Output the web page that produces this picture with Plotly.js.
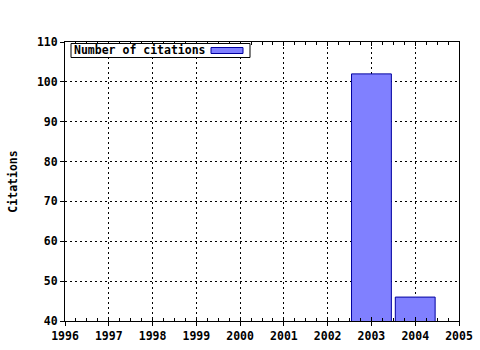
<!DOCTYPE html>
<html>
<head>
<meta charset="utf-8">
<script src="https://cdn.plot.ly/plotly-3.0.1.min.js"></script>
<style>html,body{margin:0;padding:0;background:#fff;}#chart{width:480px;height:350px;}</style>
</head>
<body>
<div id="chart"></div>
<script>
var years = [2003, 2004];
var citations = [102, 46];
var seriesName = 'Number of citations';
var yTitle = 'Citations';

var font = {family: 'DejaVu Sans Mono, monospace', size: 11.5, color: '#000', weight: 'bold'};

var trace = {
  type: 'bar', x: years, y: citations, width: 0.91, name: seriesName,
  marker: {color: '#8080ff', line: {color: '#0000a0', width: 1}},
  showlegend: false, hoverinfo: 'none'
};
var helper = {type: 'scatter', x: [1996], y: [40], xaxis: 'x2', yaxis: 'y', mode: 'none', showlegend: false, hoverinfo: 'none'};

function px(x) { return (x - 65) / 394; }
function py(y) { return (321 - y) / 279; }

var layout = {
  width: 480, height: 350,
  margin: {l: 65, r: 21, t: 42, b: 29},
  paper_bgcolor: '#fff', plot_bgcolor: '#fff',
  font: font,
  showlegend: false,
  xaxis: {
    range: [1996, 2005], dtick: 1, tick0: 1996, tickformat: 'd',
    showline: true, linecolor: '#000', linewidth: 1, mirror: 'allticks',
    ticks: 'inside', ticklen: 4, tickcolor: '#000', ticklabelstandoff: 4,
    showgrid: true, gridcolor: '#000', griddash: '2px,3px', gridwidth: 1,
    minor: {dtick: 0.25, ticks: 'inside', ticklen: 3, tickcolor: '#000', showgrid: false},
    zeroline: false, tickfont: font, fixedrange: true
  },
  xaxis2: {
    overlaying: 'x', range: [1996, 2005], dtick: 1, tick0: 1996,
    ticks: 'outside', ticklen: 4, tickcolor: '#000', showticklabels: false,
    showgrid: false, zeroline: false, showline: false, side: 'bottom'
  },
  yaxis: {
    range: [40, 110], dtick: 10,
    showline: true, linecolor: '#000', linewidth: 1, mirror: true,
    ticks: 'outside', ticklen: 4, tickcolor: '#000',
    showgrid: true, gridcolor: '#000', griddash: '2px,3px', gridwidth: 1,
    zeroline: false, tickfont: font, fixedrange: true,
    title: {text: yTitle, font: font, standoff: 16}
  },
  annotations: [{
    xref: 'paper', yref: 'paper', x: px(72), y: py(50.3),
    xanchor: 'left', yanchor: 'middle', text: seriesName, showarrow: false,
    font: font
  }],
  shapes: [{
    type: 'rect', xref: 'paper', yref: 'paper',
    x0: px(71), x1: px(250), y0: py(57.5), y1: py(43.5),
    fillcolor: '#fff', line: {color: '#000', width: 1}
  }, {
    type: 'rect', xref: 'paper', yref: 'paper',
    x0: px(211), x1: px(243), y0: py(53.5), y1: py(47.5),
    fillcolor: '#8080ff', line: {color: '#0000a0', width: 1}
  }]
};

Plotly.newPlot('chart', [trace, helper], layout, {displayModeBar: false, staticPlot: true});
</script>
</body>
</html>
